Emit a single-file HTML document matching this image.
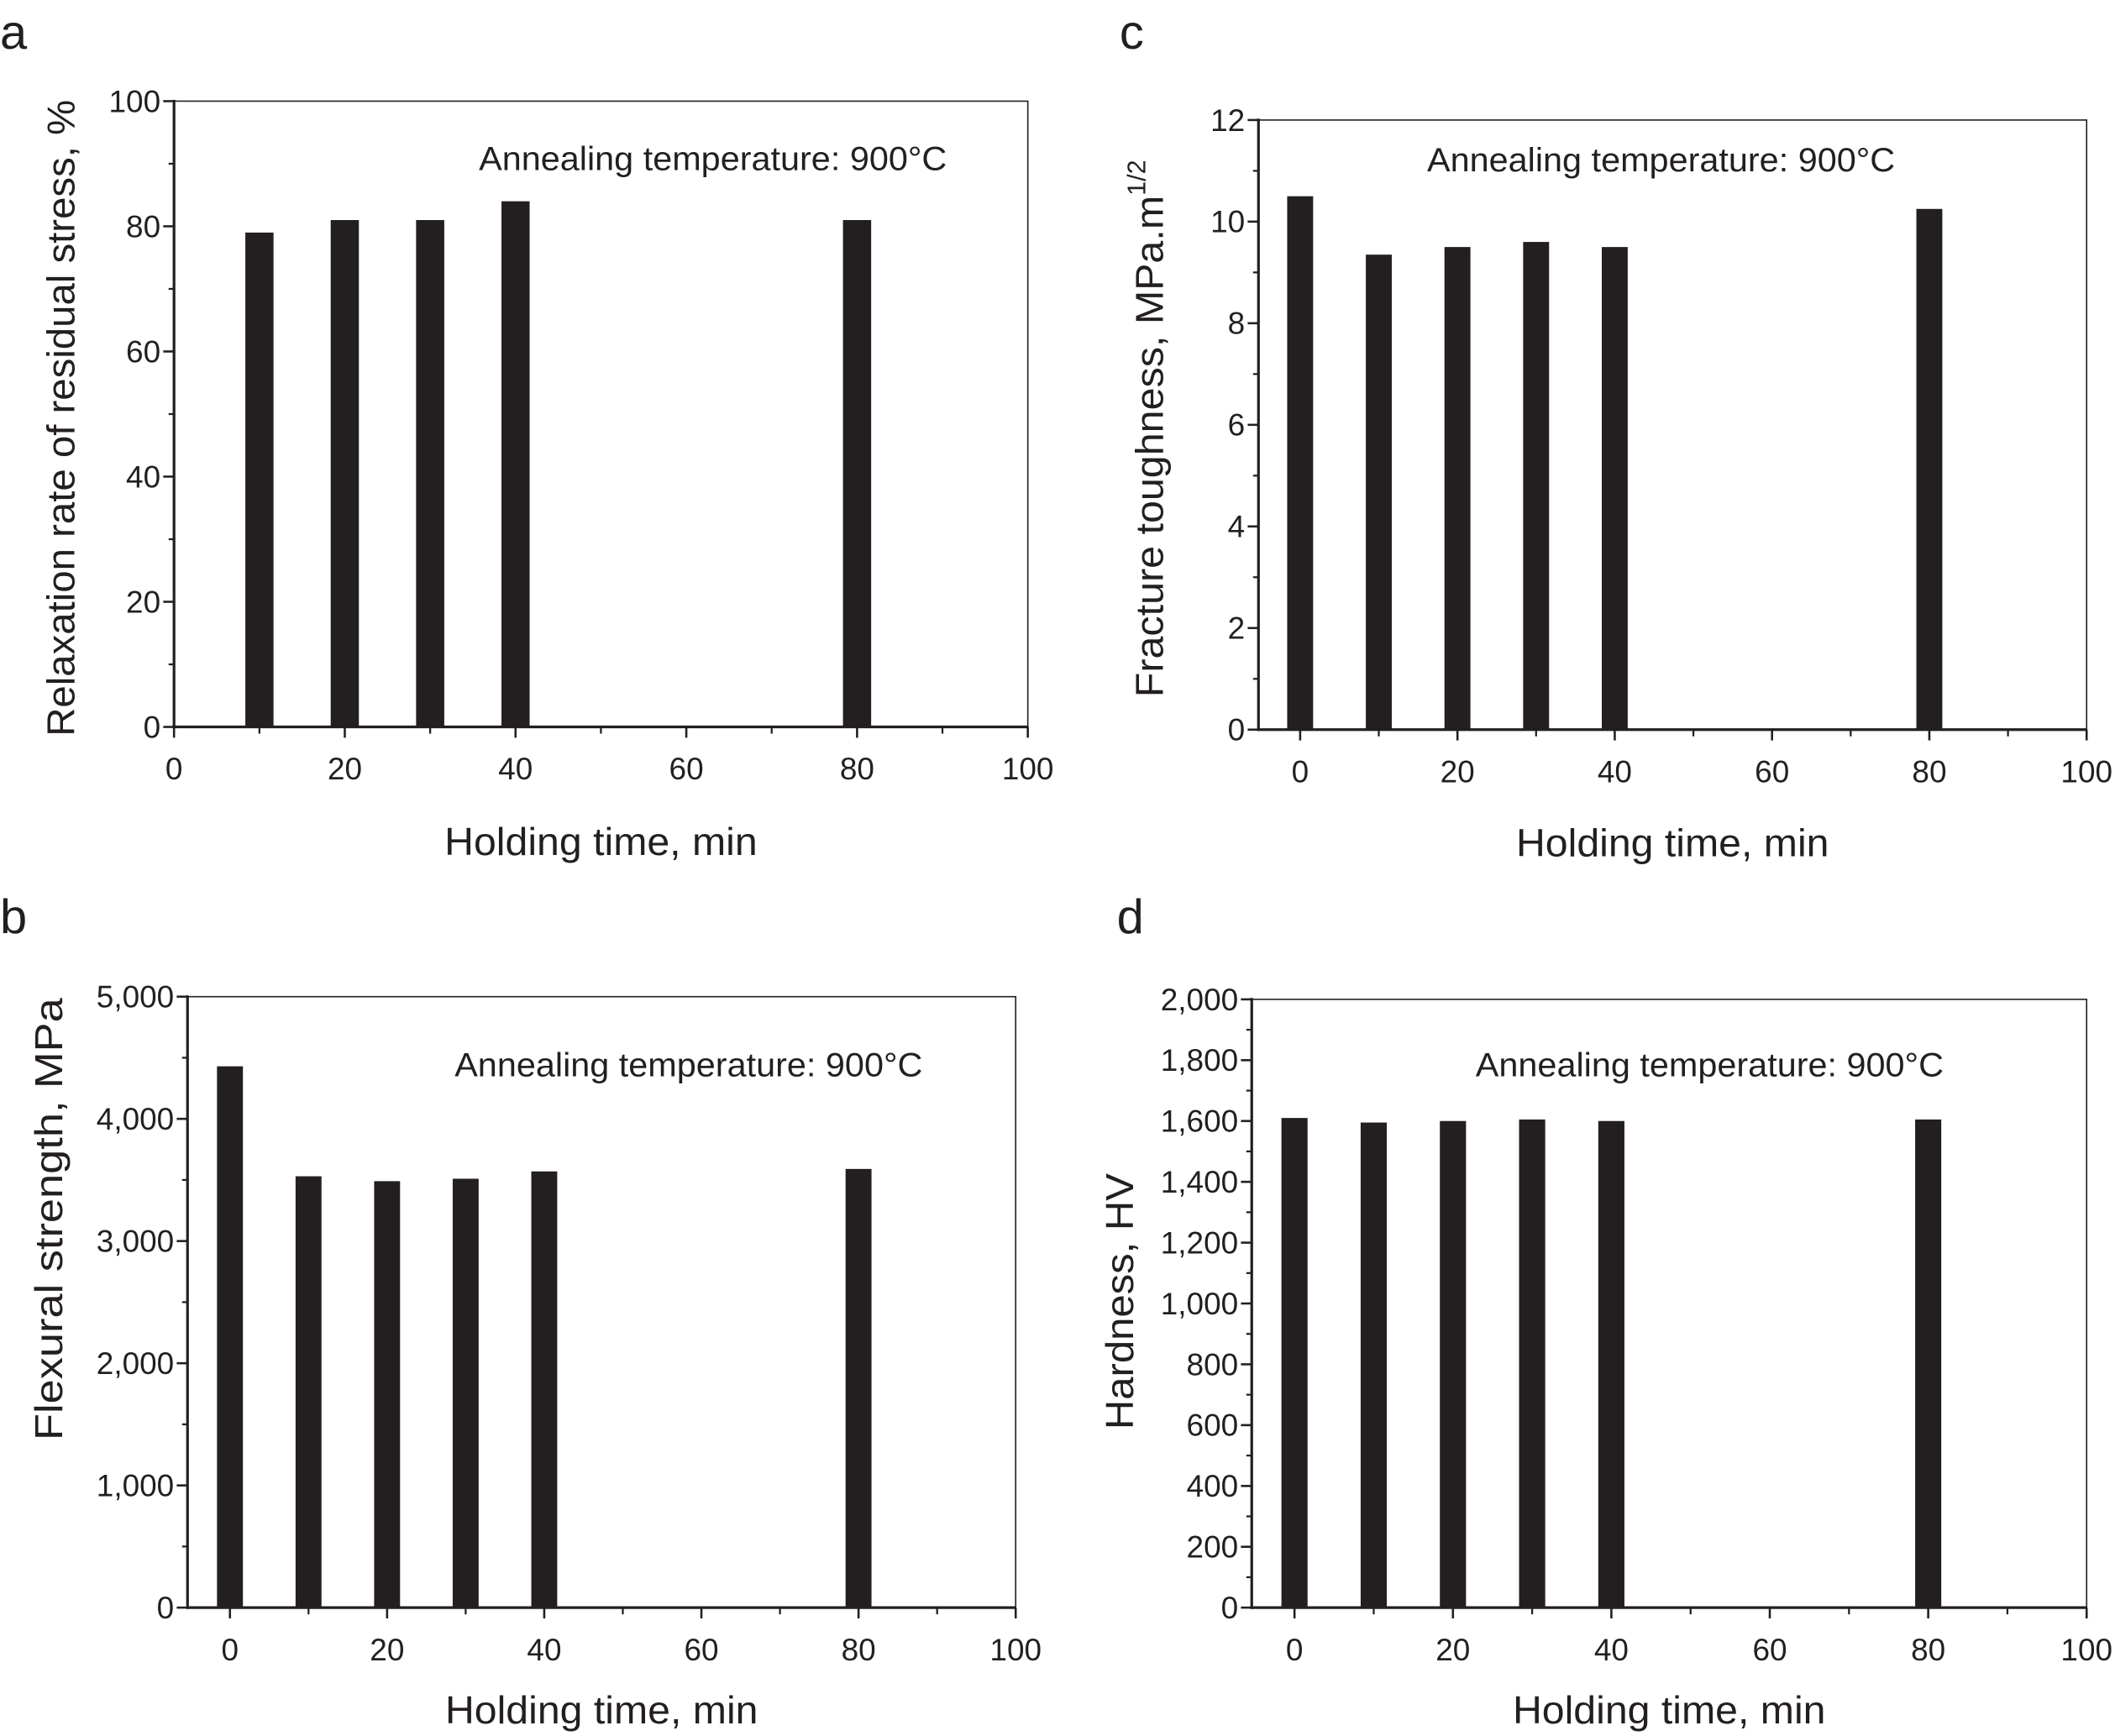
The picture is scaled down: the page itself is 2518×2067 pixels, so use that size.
<!DOCTYPE html>
<html><head><meta charset="utf-8"><style>
html,body{margin:0;padding:0;background:#fff;}
svg{display:block;}
text{font-family:"Liberation Sans",sans-serif;fill:#231f20;}
</style></head><body>
<svg id="fig" width="2518" height="2067" viewBox="0 0 1568 1287.2" xmlns="http://www.w3.org/2000/svg"></svg>
<script>
const xA = [10, 20, 30, 40, 80];
const valsA = [79, 81, 81, 84, 81];
const xB = [0, 10, 20, 30, 40, 80];
const valsB = [4430, 3530, 3490, 3510, 3570, 3590];
const xC = [0, 10, 20, 30, 40, 80];
const valsC = [10.5, 9.35, 9.5, 9.6, 9.5, 10.25];
const xD = [0, 10, 20, 30, 40, 80];
const valsD = [1610, 1595, 1600, 1605, 1600, 1605];
const ticksXA = [0, 20, 40, 60, 80, 100];
const ticksYA = [0, 20, 40, 60, 80, 100];
const ticksYB = [0, 1000, 2000, 3000, 4000, 5000];
const ticksYC = [0, 2, 4, 6, 8, 10, 12];
const ticksYD = [0, 200, 400, 600, 800, 1000, 1200, 1400, 1600, 1800, 2000];

const NS = "http://www.w3.org/2000/svg";
const svg = document.getElementById('fig');
function mk(tag, attrs, parent, txt) {
  const e = document.createElementNS(NS, tag);
  for (const k in attrs) e.setAttribute(k, attrs[k]);
  if (txt !== undefined) e.textContent = txt;
  (parent || svg).appendChild(e);
  return e;
}
function fmt(v) { return v >= 1000 ? v.toLocaleString('en-US') : String(v); }

function panel(p) {
  const g = mk('g', {});
  
  
  const sx = v => p.L + (v - p.x0) / (p.x1 - p.x0) * (p.R - p.L);
  const sy = v => p.B - (v - p.y0) / (p.y1 - p.y0) * (p.B - p.T);
  const fr = mk('rect', {x: p.L, y: p.T, width: p.R - p.L, height: p.B - p.T, fill: 'none', stroke: '#231f20', 'stroke-width': 1}, g);
  
  
  p.xs.forEach((x, i) => {
    const w = sx(x + 1.65) - sx(x - 1.65);
    const r = mk('rect', {x: sx(x) - w / 2, y: sy(p.vals[i]), width: w, height: sy(p.y0) - sy(p.vals[i]), fill: '#231f20'}, g);
    
    
  });
  mk('line', {x1: p.L, y1: p.T - 1, x2: p.L, y2: p.B + 1, stroke: '#231f20', 'stroke-width': 2}, g);
  mk('line', {x1: p.L - 1, y1: p.B, x2: p.R, y2: p.B, stroke: '#231f20', 'stroke-width': 2}, g);
  p.yt.forEach(v => {
    mk('line', {x1: p.L - 8, y1: sy(v), x2: p.L, y2: sy(v), stroke: '#231f20', 'stroke-width': 1.6}, g);
    const t = mk('text', {x: p.L - 10, y: sy(v) + 8, 'font-size': 23, 'text-anchor': 'end'}, g, fmt(v));
    
    
  });
  for (let i = 0; i < p.yt.length - 1; i++) {
    const m = (p.yt[i] + p.yt[i + 1]) / 2;
    mk('line', {x1: p.L - 4, y1: sy(m), x2: p.L, y2: sy(m), stroke: '#231f20', 'stroke-width': 1.4}, g);
  }
  ticksXA.forEach(v => {
    mk('line', {x1: sx(v), y1: p.B, x2: sx(v), y2: p.B + 8, stroke: '#231f20', 'stroke-width': 1.6}, g);
    const t = mk('text', {x: sx(v), y: p.B + 39, 'font-size': 23, 'text-anchor': 'middle'}, g, String(v));
    
    
  });
  for (let v = 10; v < 100; v += 20) {
    mk('line', {x1: sx(v), y1: p.B, x2: sx(v), y2: p.B + 5, stroke: '#231f20', 'stroke-width': 1.4}, g);
  }
  const an = mk('text', {x: p.annX, y: p.annY, 'font-size': 25, textLength: 347, lengthAdjust: 'spacingAndGlyphs'}, g, 'Annealing temperature: 900\u00B0C');
  
  
  const xt = mk('text', {x: (p.L + p.R) / 2 - 116, y: p.B + p.xtOff, 'font-size': 29, textLength: 232, lengthAdjust: 'spacingAndGlyphs'}, g, 'Holding time, min');
  
  
  const yt = mk('text', {x: 0, y: 0, 'font-size': 29, transform: 'translate(' + p.ytX + ',' + p.ytY + ') rotate(-90)'}, g);
  
  
  mk('tspan', {textLength: p.ytLen, lengthAdjust: 'spacingAndGlyphs'}, yt, p.ytitle);
  if (p.sup) {
    mk('tspan', {'font-size': 19, dy: -13}, yt, p.sup);
  }
  const lt = mk('text', {x: p.letX, y: p.letY, 'font-size': 36}, g, p.id);
  
  
}

panel({id: 'a', L: 129, R: 762, T: 75, B: 539, x0: 0, x1: 100, y0: 0, y1: 100, xs: xA, vals: valsA, yt: ticksYA, xtOff: 95,
  annX: 355, annY: 126, ytX: 55, ytY: 546, ytLen: 472, ytitle: 'Relaxation rate of residual stress, %', letX: 0, letY: 36});
panel({id: 'c', L: 933, R: 1547, T: 89, B: 541, x0: -5.3, x1: 100, y0: 0, y1: 12, xs: xC, vals: valsC, yt: ticksYC, xtOff: 94,
  annX: 1058, annY: 127, ytX: 862, ytY: 517, ytLen: 372, ytitle: 'Fracture toughness, MPa.m', sup: '1/2', letX: 830, letY: 36});
panel({id: 'b', L: 139, R: 753, T: 739, B: 1192, x0: -5.4, x1: 100, y0: 0, y1: 5000, xs: xB, vals: valsB, yt: ticksYB, xtOff: 86,
  annX: 337, annY: 798, ytX: 46, ytY: 1068, ytLen: 328, ytitle: 'Flexural strength, MPa', letX: 0, letY: 692});
panel({id: 'd', L: 928, R: 1547, T: 741, B: 1192, x0: -5.4, x1: 100, y0: 0, y1: 2000, xs: xD, vals: valsD, yt: ticksYD, xtOff: 86,
  annX: 1094, annY: 798, ytX: 840, ytY: 1060, ytLen: 190, ytitle: 'Hardness, HV', letX: 828, letY: 692});
</script>
</body></html>
